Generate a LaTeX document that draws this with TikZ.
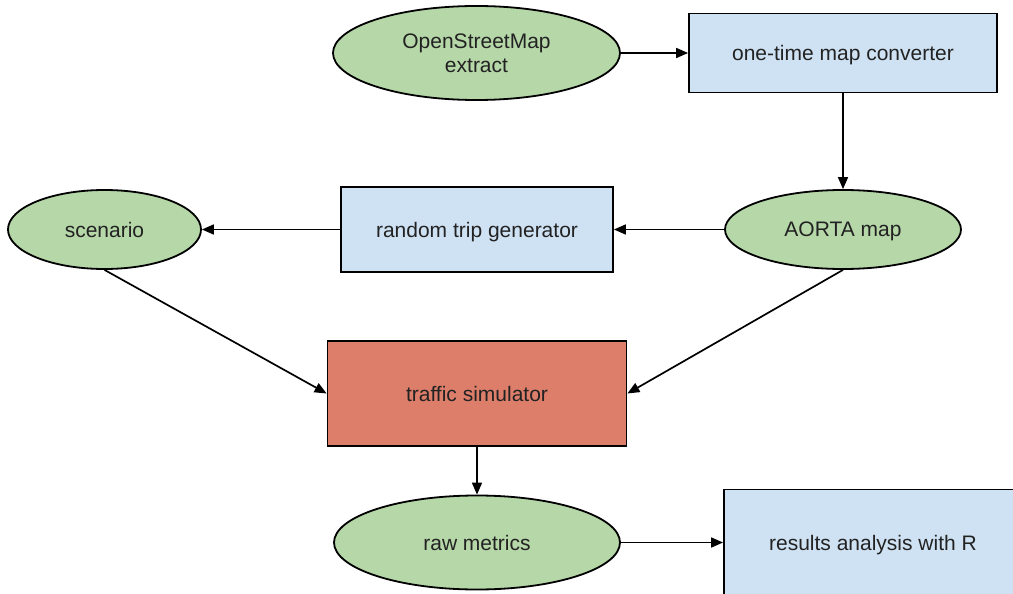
\documentclass[tikz,border=0pt]{standalone}
\usepackage{fontspec}
\setmainfont{Liberation Sans}
\usetikzlibrary{shapes.geometric,arrows.meta}
\definecolor{gfill}{HTML}{B6D7A8}
\definecolor{bfill}{HTML}{CFE2F3}
\definecolor{rfill}{HTML}{DD7E6B}
\definecolor{txt}{HTML}{222222}
\tikzset{
  oval/.style={ellipse, draw=black, line width=1.8pt, fill=gfill, inner sep=0pt, text=txt, font=\fontsize{21}{24.5}\selectfont, align=center, text depth=0pt},
  boxn/.style={rectangle, draw=black, line width=1.8pt, fill=bfill, inner sep=0pt, text=txt, font=\fontsize{21}{24.5}\selectfont, align=center, text depth=0pt},
  simn/.style={boxn, fill=rfill},
  conn/.style={line width=1.7pt, -{Triangle[length=12pt,width=10pt]}}
}
\begin{document}
\begin{tikzpicture}[x=1pt,y=-1pt]
\useasboundingbox (0,0) rectangle (1013,594);
\clip (0,0) rectangle (1013,594);
\node[oval, minimum width=287pt, minimum height=94pt] (osm) at (476.5,53) {OpenStreetMap\\extract};
\node[boxn, minimum width=308pt, minimum height=79pt] (conv) at (843,53) {one-time map converter};
\node[oval, minimum width=236pt, minimum height=79pt] (aorta) at (843,229.5) {AORTA map};
\node[boxn, minimum width=272pt, minimum height=85pt] (rtg) at (477,229.5) {random trip generator};
\node[oval, minimum width=193pt, minimum height=79pt] (scen) at (104.5,229.5) {scenario};
\node[simn, minimum width=299pt, minimum height=105pt] (sim) at (477,393.5) {traffic simulator};
\node[oval, minimum width=286pt, minimum height=94pt] (raw) at (477,542.5) {raw metrics};
\node[boxn, minimum width=298pt, minimum height=106pt] (res) at (873,542.5) {results analysis with R};
\draw[conn] (osm.east) -- (conv.west);
\draw[conn] (conv.south) -- (aorta.north);
\draw[conn] (aorta.west) -- (rtg.east);
\draw[conn] (rtg.west) -- (scen.east);
\draw[conn] (scen.south) -- (sim.west);
\draw[conn] (aorta.south) -- (sim.east);
\draw[conn] (sim.south) -- (raw.north);
\draw[conn] (raw.east) -- (res.west);
\end{tikzpicture}
\end{document}
